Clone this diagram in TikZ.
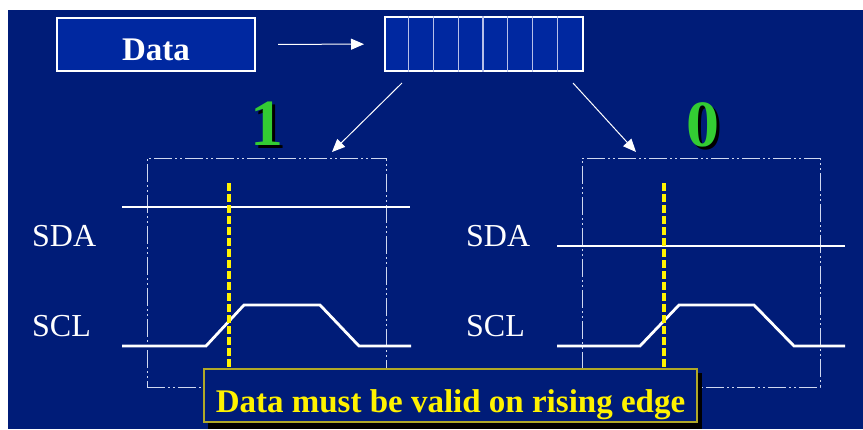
\documentclass[tikz,border=0pt]{standalone}
\usepackage{fontspec}
\setmainfont{Liberation Serif}
\usetikzlibrary{arrows.meta}
\definecolor{bgblue}{HTML}{001C78}
\definecolor{boxblue}{HTML}{0028A0}
\definecolor{bitgreen}{HTML}{33CC33}
\definecolor{framegray}{HTML}{D0D8F0}
\definecolor{cellline}{HTML}{B8C0E8}
\definecolor{noteedge}{HTML}{B0A828}
\newcommand{\shadowed}[1]{\makebox[0pt][l]{\hspace{3pt}\raisebox{-3pt}{\textcolor{black}{#1}}}#1}
\begin{document}
\begin{tikzpicture}[x=1pt, y=-1pt,
  every node/.style={font=\fontsize{32}{36}\selectfont, text=white, inner sep=0pt},
  wire/.style={draw=white, line width=2.8pt},
  window/.style={draw=framegray, line width=1pt, dash pattern=on 18pt off 3pt on 2pt off 3pt on 2pt off 3pt},
  probe/.style={draw=yellow, line width=3.5pt, dash pattern=on 8pt off 3pt},
  pointer/.style={draw=white, line width=1pt, -{Triangle[length=13pt,width=11pt]}},
  bitlabel/.style={font=\fontsize{66}{70}\selectfont\bfseries, text=bitgreen}]
  \fill[white] (0,0) rectangle (863,429);
  \fill[bgblue] (8,10) rectangle (863,429);
  \useasboundingbox (0,0) rectangle (863,429);
  % data word and shift register
  \node[draw=white, line width=2pt, fill=boxblue, minimum width=198pt, text height=42pt, text depth=11pt,
    anchor=base, font=\fontsize{33}{36}\selectfont\bfseries] (data) at (156,60) {Data\hspace{10pt}};
  \node[draw=white, line width=2pt, fill=boxblue, minimum width=198pt, minimum height=54pt] (reg) at (484,44) {};
  \foreach \i in {1,...,7}
    \draw[cellline, line width=1.3pt] ([xshift=\i*24.75pt]reg.north west) -- ([xshift=\i*24.75pt]reg.south west);
  \draw[pointer, shorten <=22pt, shorten >=20pt] (data) -- (reg);
  % bit windows
  \node[window, minimum width=239pt, minimum height=229pt] (winone) at (266.5,272.5) {};
  \node[window, minimum width=238pt, minimum height=229pt] (winzero) at (701,272.5) {};
  \coordinate (fromone) at (402,83);
  \coordinate (toone) at (332,152);
  \coordinate (fromzero) at (573,83);
  \coordinate (tozero) at (636,152);
  \draw[pointer] (fromone) -- (toone);
  \draw[pointer] (fromzero) -- (tozero);
  \node[bitlabel] (one) at (267,125) {\shadowed{1}};
  \node[bitlabel] (zero) at (703,126) {\shadowed{0}};
  % signal names
  \node[anchor=west] (sdaone) at (32,236) {SDA};
  \node[anchor=west] (sclone) at (32,326) {SCL};
  \node[anchor=west] (sdazero) at (466,236) {SDA};
  \node[anchor=west] (sclzero) at (466,326) {SCL};
  % waveforms
  \draw[wire] (122,207) -- (410,207);
  \draw[wire] (557,246) -- (845,246);
  \draw[wire] (122,346) -- (206,346) -- (244,305) -- (320,305) -- (359,346) -- (411,346);
  \draw[wire] (557,346) -- (640,346) -- (679,305) -- (754,305) -- (794,346) -- (845,346);
  \draw[probe] (229,183) -- (229,370);
  \draw[probe] (664,183) -- (664,370);
  % note
  \fill[black] (208,373) rectangle (702,429);
  \node[draw=noteedge, line width=1.5pt, fill=bgblue, text=yellow, font=\fontsize{33}{36}\selectfont\bfseries,
    minimum width=493pt, text height=43pt, text depth=10pt, anchor=base] (note) at (450.5,412) {Data must be valid on rising edge};
\end{tikzpicture}
\end{document}
